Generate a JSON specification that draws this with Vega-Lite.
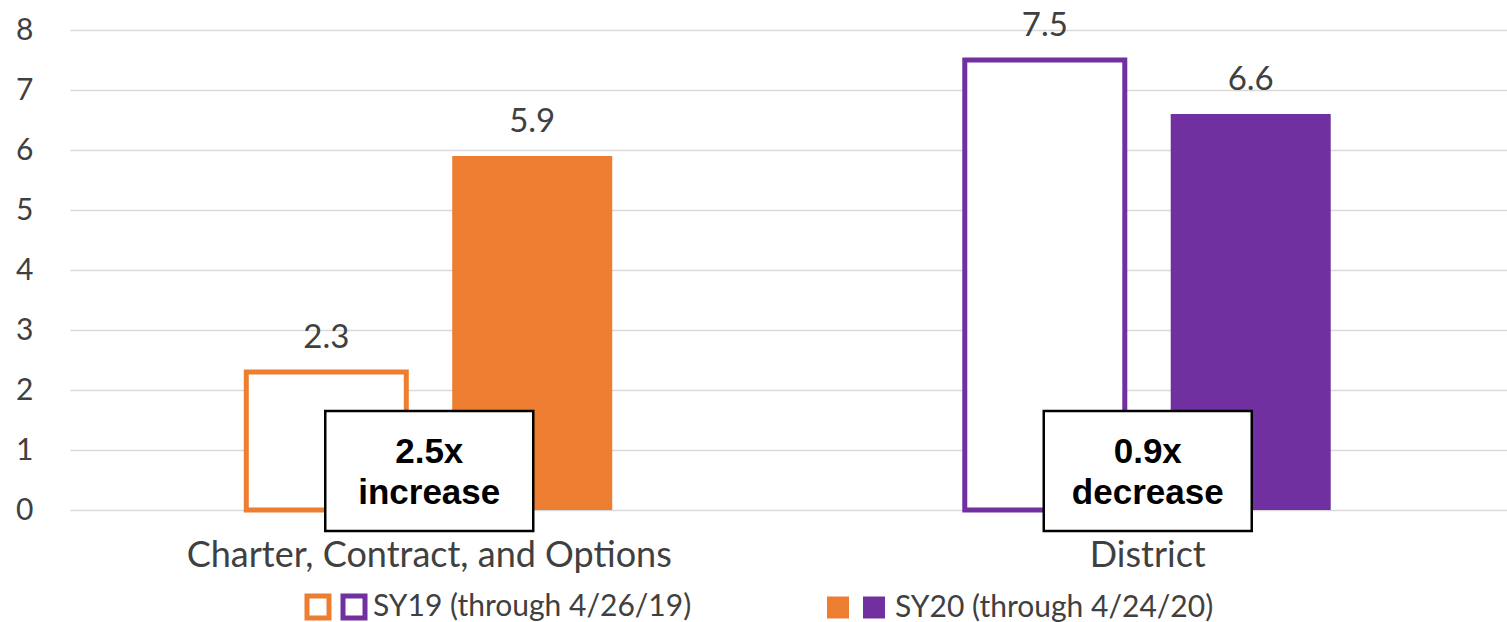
{
  "$schema": "https://vega.github.io/schema/vega-lite/v6.json",
  "width": 1437,
  "height": 480,
  "autosize": "none",
  "padding": {"left": 70, "top": 30, "right": 0, "bottom": 112},
  "background": "white",
  "config": {"view": {"stroke": null}, "font": "Lato"},
  "datasets": {
    "bars": [
      {"cat": "Charter, Contract, and Options", "year": "SY19", "key": "a", "value": 2.3},
      {"cat": "Charter, Contract, and Options", "year": "SY20", "key": "c", "value": 5.9},
      {"cat": "District", "year": "SY19", "key": "b", "value": 7.5},
      {"cat": "District", "year": "SY20", "key": "d", "value": 6.6}
    ],
    "boxes": [
      {"cat": "Charter, Contract, and Options", "top": 1.65, "bottom": -0.35, "mid": 0.64, "label": "2.5x\nincrease"},
      {"cat": "District", "top": 1.65, "bottom": -0.35, "mid": 0.64, "label": "0.9x\ndecrease"}
    ]
  },
  "resolve": {"scale": {"fill": "independent", "stroke": "independent"}},
  "encoding": {
    "x": {
      "field": "cat",
      "type": "nominal",
      "sort": ["Charter, Contract, and Options", "District"],
      "scale": {"paddingInner": 0, "paddingOuter": 0},
      "axis": {
        "title": null,
        "labelAngle": 0,
        "domain": false,
        "ticks": false,
        "labelFont": "Lato",
        "labelFontSize": 36,
        "labelColor": "#404040",
        "labelPadding": 28,
        "labelLimit": 0
      }
    }
  },
  "layer": [
    {
      "data": {"name": "bars"},
      "transform": [{"filter": "datum.year == 'SY19'"}],
      "mark": {"type": "bar", "fill": "#ffffff", "strokeWidth": 5, "strokeJoin": "miter"},
      "encoding": {
        "xOffset": {
          "field": "year",
          "type": "nominal",
          "scale": {"domain": ["SY19", "SY20"], "paddingInner": 0.223, "paddingOuter": 0.856}
        },
        "y": {
          "field": "value",
          "type": "quantitative",
          "scale": {"domain": [0, 8], "nice": false, "zero": true},
          "axis": {
            "title": null,
            "values": [0, 1, 2, 3, 4, 5, 6, 7, 8],
            "format": "d",
            "domain": false,
            "ticks": false,
            "labelPadding": 37,
            "labelFont": "Lato",
            "labelFontSize": 30,
            "labelColor": "#404040",
            "gridColor": "#d9d9d9",
            "gridWidth": 1.5
          }
        },
        "stroke": {
          "field": "key",
          "type": "nominal",
          "scale": {"domain": ["a", "b"], "range": ["#ED7D31", "#7030A0"]},
          "legend": {
            "title": null,
            "orient": "none",
            "legendX": 233,
            "legendY": 562,
            "direction": "horizontal",
            "symbolType": "square",
            "symbolSize": 484,
            "symbolStrokeWidth": 5,
            "symbolFillColor": "#ffffff",
            "symbolOpacity": 1,
            "labelExpr": "datum.value == 'b' ? 'SY19 (through 4/26/19)' : ''",
            "labelFont": "Lato",
            "labelFontSize": 30,
            "labelColor": "#404040",
            "labelOffset": 4,
            "labelLimit": 0,
            "columnPadding": -14
          }
        }
      }
    },
    {
      "data": {"name": "bars"},
      "transform": [{"filter": "datum.year == 'SY20'"}],
      "mark": {"type": "bar"},
      "encoding": {
        "xOffset": {"field": "year", "type": "nominal"},
        "y": {"field": "value", "type": "quantitative"},
        "fill": {
          "field": "key",
          "type": "nominal",
          "scale": {"domain": ["c", "d"], "range": ["#ED7D31", "#7030A0"]},
          "legend": {
            "title": null,
            "orient": "none",
            "legendX": 753,
            "legendY": 562.5,
            "direction": "horizontal",
            "symbolType": "square",
            "symbolSize": 484,
            "symbolStrokeWidth": 0,
            "symbolOpacity": 1,
            "labelExpr": "datum.value == 'd' ? 'SY20 (through 4/24/20)' : ''",
            "labelFont": "Lato",
            "labelFontSize": 30,
            "labelColor": "#404040",
            "labelOffset": 6,
            "labelLimit": 0,
            "columnPadding": -6
          }
        }
      }
    },
    {
      "data": {"name": "bars"},
      "mark": {"type": "text", "baseline": "alphabetic", "dy": -24, "font": "Lato", "fontSize": 33, "color": "#404040"},
      "encoding": {
        "xOffset": {"field": "year", "type": "nominal"},
        "y": {"field": "value", "type": "quantitative"},
        "text": {"field": "value", "type": "quantitative", "format": ".1f"}
      }
    },
    {
      "data": {"name": "boxes"},
      "mark": {"type": "bar", "width": 208, "fill": "#ffffff", "stroke": "#000000", "strokeWidth": 2.5},
      "encoding": {
        "y": {"field": "top", "type": "quantitative"},
        "y2": {"field": "bottom"}
      }
    },
    {
      "data": {"name": "boxes"},
      "mark": {"type": "text", "font": "Liberation Sans", "fontWeight": "bold", "fontSize": 35, "lineBreak": "\n", "lineHeight": 41, "baseline": "middle", "dy": -20, "color": "#000000"},
      "encoding": {
        "y": {"field": "mid", "type": "quantitative"},
        "text": {"field": "label"}
      }
    }
  ]
}
